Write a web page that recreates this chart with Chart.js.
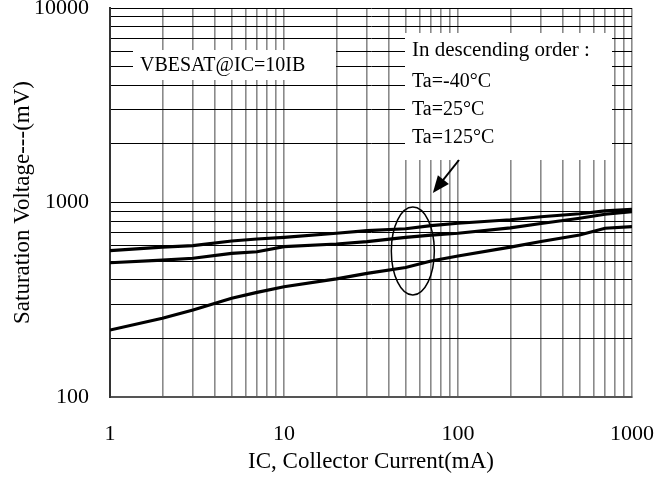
<!DOCTYPE html>
<html>
<head>
<meta charset="utf-8">
<script src="https://cdn.jsdelivr.net/npm/chart.js@4.4.0/dist/chart.umd.min.js"></script>
<style>
    html, body { margin: 0; padding: 0; background: #fff; }
    #wrap { width: 672px; height: 482px; }
</style>
</head>
<body>
<div id="wrap"><canvas id="myChart" width="672" height="482"></canvas></div>
<script>
// collector current (mA) where the curves are sampled
const currentMA = [1, 2, 3, 5, 7, 10, 20, 30, 50, 70, 100, 200, 300, 500, 700, 1000];

// VBE(sat) in mV at IC = 10 IB
const vbeMinus40 = [565, 590, 600, 634, 649, 662, 695, 716, 733, 760, 782, 815, 845, 875, 905, 923];
const vbe25 = [490, 505, 517, 548, 558, 593, 612, 629, 662, 680, 695, 740, 780, 830, 870, 897];
const vbe125 = [221, 254, 280, 322, 345, 369, 405, 432, 463, 500, 531, 590, 630, 681, 737, 751];

// grid positions and the labels shown on them
const xGrid = [1, 2, 3, 4, 5, 6, 7, 8, 9, 10, 20, 30, 40, 50, 60, 70, 80, 90,
    100, 200, 300, 400, 500, 600, 700, 800, 900, 1000];
const yGrid = [100, 200, 300, 400, 500, 600, 700, 800, 900,
    1000, 2000, 3000, 4000, 5000, 6000, 7000, 8000, 9000, 10000];
const xTickLabels = ['1', '10', '100', '1000'];
const yTickLabels = ['100', '1000', '10000'];

const legendLines = ['Ta=-40°C', 'Ta=25°C', 'Ta=125°C'];

const serif = "'Liberation Serif', 'Times New Roman', serif";

function toPoints(values) {
    return currentMA.map((x, i) => ({ x: x, y: values[i] }));
}

function curve(values) {
    return {
        data: toPoints(values),
        borderColor: '#000',
        borderWidth: 3.2,
        pointRadius: 0,
        tension: 0,
        fill: false
    };
}

// text boxes, ellipse and arrow on top of the grid
const notes = {
    id: 'notes',
    afterDraw(chart) {
        const c = chart.ctx;
        const ca = chart.chartArea;
        const xs = chart.scales.x;
        const ys = chart.scales.y;
        c.save();

        c.fillStyle = '#fff';
        c.fillRect(ca.left + 23, ca.top + 42, 203, 30);
        c.fillStyle = '#000';
        c.font = '20px ' + serif;
        c.textBaseline = 'middle';
        c.fillText('VBESAT@IC=10IB', ca.left + 30, ca.top + 58);

        c.fillStyle = '#fff';
        c.fillRect(ca.left + 295, ca.top + 25, 207, 127);
        c.fillStyle = '#000';
        c.font = '21px ' + serif;
        c.fillText('In descending order :', ca.left + 302, ca.top + 42);
        c.font = '20px ' + serif;
        legendLines.forEach((t, i) => {
            c.fillText(t, ca.left + 302, ca.top + 74 + i * 28);
        });

        // ellipse around the curves near 55 mA
        const ex = xs.getPixelForValue(55);
        const ey = ys.getPixelForValue(563);
        c.strokeStyle = '#000';
        c.lineWidth = 1.5;
        c.beginPath();
        c.ellipse(ex, ey, 21.5, 44, 0, 0, Math.PI * 2);
        c.stroke();

        // arrow from the legend down to the ellipse
        const x0 = ca.left + 349, y0 = ca.top + 152;
        const x1 = ex + 20, y1 = ey - 58;
        const ang = Math.atan2(y1 - y0, x1 - x0);
        c.lineWidth = 2;
        c.beginPath();
        c.moveTo(x0, y0);
        c.lineTo(x1 - 10 * Math.cos(ang), y1 - 10 * Math.sin(ang));
        c.stroke();
        c.beginPath();
        c.moveTo(x1, y1);
        c.lineTo(x1 - 17 * Math.cos(ang) + 7 * Math.sin(ang), y1 - 17 * Math.sin(ang) - 7 * Math.cos(ang));
        c.lineTo(x1 - 17 * Math.cos(ang) - 7 * Math.sin(ang), y1 - 17 * Math.sin(ang) + 7 * Math.cos(ang));
        c.closePath();
        c.fill();

        c.restore();
    }
};

const ctx = document.getElementById('myChart');

const vbeChart = new Chart(ctx, {
    type: 'line',
    data: {
        datasets: [curve(vbeMinus40), curve(vbe25), curve(vbe125)]
    },
    options: {
        responsive: false,
        animation: false,
        layout: {
            padding: { top: 8, right: 40, left: 0, bottom: 0 }
        },
        scales: {
            x: {
                type: 'logarithmic',
                min: 1,
                max: 1000,
                afterBuildTicks: s => { s.ticks = xGrid.map(v => ({ value: v })); },
                afterFit: s => { s.height = 85; s.paddingLeft = 0; s.paddingRight = 0; },
                grid: {
                    color: '#8a8a8a',
                    lineWidth: 1.6,
                    drawTicks: false
                },
                border: { color: '#555', width: 2 },
                ticks: {
                    autoSkip: false,
                    maxRotation: 0,
                    padding: 24,
                    color: '#000',
                    font: { family: serif, size: 22 },
                    callback: v => xTickLabels.includes(String(v)) ? String(v) : ''
                },
                title: {
                    display: true,
                    text: 'IC, Collector Current(mA)',
                    color: '#000',
                    font: { family: serif, size: 23 },
                    padding: { top: 0, bottom: 6 }
                }
            },
            y: {
                type: 'logarithmic',
                min: 100,
                max: 10000,
                afterBuildTicks: s => { s.ticks = yGrid.map(v => ({ value: v })); },
                afterFit: s => { s.width = 110; s.paddingTop = 0; s.paddingBottom = 0; },
                grid: {
                    color: '#000',
                    lineWidth: 1,
                    drawTicks: false
                },
                border: { color: '#333', width: 2 },
                ticks: {
                    autoSkip: false,
                    padding: 21,
                    color: '#000',
                    font: { family: serif, size: 22 },
                    callback: v => yTickLabels.includes(String(v)) ? String(v) : ''
                },
                title: {
                    display: true,
                    text: 'Saturation Voltage---(mV)',
                    color: '#000',
                    font: { family: serif, size: 23 },
                    padding: { top: 9, bottom: 0 }
                }
            }
        },
        plugins: {
            legend: { display: false },
            tooltip: { enabled: false }
        }
    },
    plugins: [notes]
});
</script>
</body>
</html>
